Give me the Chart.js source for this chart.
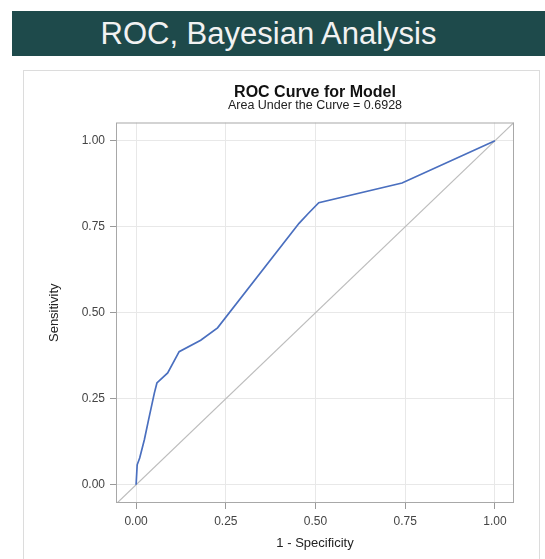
<!DOCTYPE html>
<html lang="en">
<head>
    <meta charset="UTF-8">
    <title>ROC, Bayesian Analysis</title>
    <style>
        body {
            margin: 0;
            background: #fff;
            font-family: "Liberation Sans", Arial, sans-serif;
        }

        #page {
            position: relative;
            width: 545px;
            height: 559px;
            overflow: hidden;
        }

        #banner {
            position: absolute;
            left: 12px;
            top: 11px;
            width: 533px;
            height: 45px;
            background: #1e4a4b;
            color: #f2f2f2;
            font-size: 31px;
            line-height: 45px;
            text-align: center;
            box-sizing: border-box;
            padding-right: 20px;
        }

        #frame {
            position: absolute;
            left: 23px;
            top: 70px;
            width: 515px;
            height: 520px;
            border: 1px solid #dcdcdc;
        }

        #chart-box {
            position: absolute;
            left: 0;
            top: 0;
            width: 545px;
            height: 559px;
        }
    </style>
</head>
<body>
<div id="page">
    <div id="banner">ROC, Bayesian Analysis</div>
    <div id="frame"></div>
    <div id="chart-box">
        <canvas id="roc-chart" width="545" height="559"></canvas>
    </div>
</div>
<script src="https://cdn.jsdelivr.net/npm/chart.js@4.4.0/dist/chart.umd.min.js"></script>
<script>
    // values
    const fpr = [0, 0.003, 0.01, 0.023, 0.035, 0.051, 0.058, 0.088, 0.12, 0.18, 0.227, 0.454, 0.481, 0.509, 0.741, 1.0];
    const tpr = [0, 0.058, 0.078, 0.131, 0.19, 0.267, 0.296, 0.325, 0.387, 0.42, 0.456, 0.76, 0.79, 0.82, 0.877, 1.0];
    const diagX = [-0.06, 1.06];
    const diagY = [-0.06, 1.06];
    const xTicks = [0, 0.25, 0.5, 0.75, 1];
    const yTicks = [0, 0.25, 0.5, 0.75, 1];

    // box round the plot area (top and right sides too),
    // and titles centred over the plot, not the whole canvas
    const plotBox = {
        id: "plotBox",
        afterLayout(chart) {
            const a = chart.chartArea;
            chart.boxes.forEach(b => {
                if (b.options && typeof b.options.text === "string") {
                    b.left = a.left;
                    b.right = a.right;
                }
            });
        },
        afterDatasetsDraw(chart) {
            const a = chart.chartArea;
            const ctx = chart.ctx;
            ctx.save();
            ctx.strokeStyle = "#a8a8a8";
            ctx.lineWidth = 1;
            ctx.strokeRect(a.left + 0.5, a.top + 0.5, a.right - a.left - 1, a.bottom - a.top - 1);
            ctx.restore();
        }
    };

    const tickFont = {family: "Liberation Sans", size: 12};
    const axisTitleFont = {family: "Liberation Sans", size: 13};

    new Chart("roc-chart", {
        type: "line",
        data: {
            datasets: [{
                label: "ROC",
                data: fpr.map((x, i) => ({x: x, y: tpr[i]})),
                borderColor: "#4a6fbf",
                borderWidth: 1.7,
                pointRadius: 0,
                tension: 0
            }, {
                label: "Chance",
                data: diagX.map((x, i) => ({x: x, y: diagY[i]})),
                borderColor: "#bdbdbd",
                borderWidth: 1.2,
                pointRadius: 0
            }]
        },
        options: {
            responsive: false,
            animation: false,
            devicePixelRatio: 1,
            layout: {
                padding: {top: 76, left: 47, right: 31, bottom: 8}
            },
            plugins: {
                legend: {display: false},
                tooltip: {enabled: false},
                title: {
                    display: true,
                    text: "ROC Curve for Model",
                    color: "#111",
                    font: {family: "Liberation Sans", size: 16, weight: "bold", lineHeight: 1},
                    padding: {top: 9, bottom: -2}
                },
                subtitle: {
                    display: true,
                    text: "Area Under the Curve = 0.6928",
                    color: "#222",
                    font: {family: "Liberation Sans", size: 12.5, lineHeight: 1},
                    padding: {top: 0, bottom: 11}
                }
            },
            scales: {
                x: {
                    type: "linear",
                    min: -0.056,
                    max: 1.053,
                    afterBuildTicks: s => { s.ticks = xTicks.map(v => ({value: v})); },
                    afterFit: s => { s.height = 48; },
                    grid: {color: "#e8e8e8", tickColor: "#9a9a9a", tickLength: 6},
                    border: {display: false},
                    ticks: {
                        color: "#444",
                        font: tickFont,
                        padding: 5,
                        maxRotation: 0,
                        callback: v => v.toFixed(2)
                    },
                    title: {
                        display: true,
                        text: "1 - Specificity",
                        color: "#222",
                        font: axisTitleFont,
                        padding: {top: 4, bottom: 0}
                    }
                },
                y: {
                    type: "linear",
                    min: -0.053,
                    max: 1.053,
                    afterBuildTicks: s => { s.ticks = yTicks.map(v => ({value: v})); },
                    afterFit: s => { s.width = 69; },
                    grid: {color: "#e8e8e8", tickColor: "#9a9a9a", tickLength: 6},
                    border: {display: false},
                    ticks: {
                        color: "#444",
                        font: tickFont,
                        padding: 5,
                        callback: v => v.toFixed(2)
                    },
                    title: {
                        display: true,
                        text: "Sensitivity",
                        color: "#222",
                        font: axisTitleFont,
                        padding: {top: 0, bottom: 14}
                    }
                }
            }
        },
        plugins: [plotBox]
    });
</script>
</body>
</html>
